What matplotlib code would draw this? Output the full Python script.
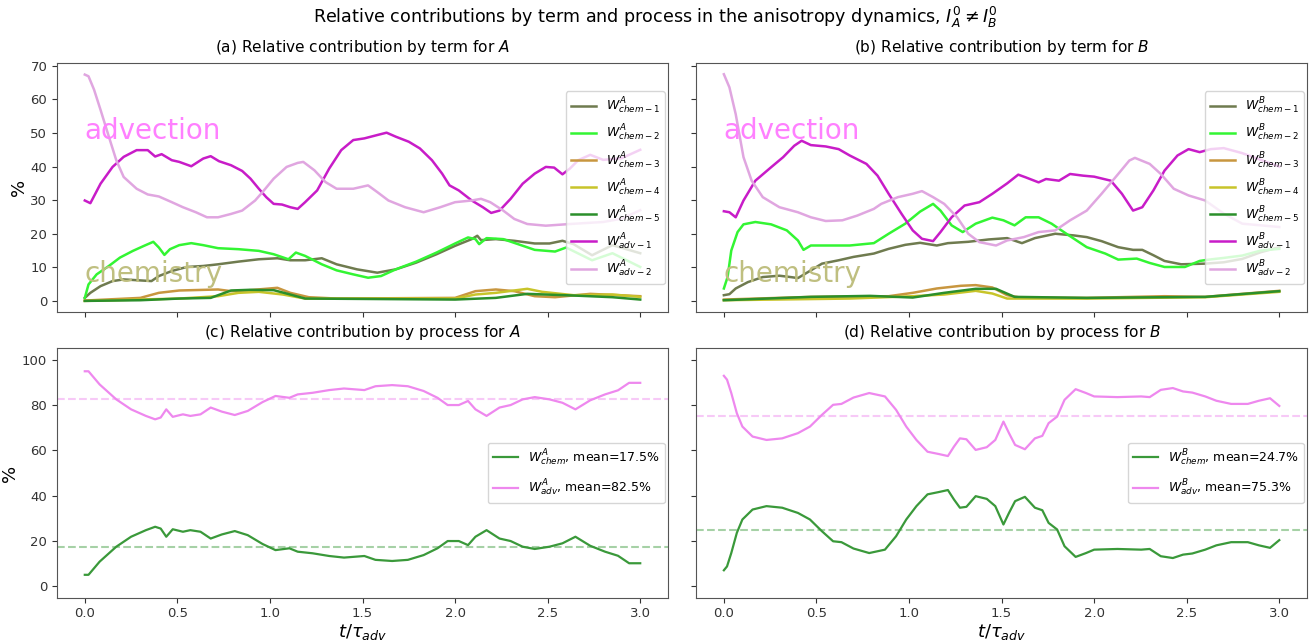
import matplotlib
matplotlib.use("Agg")
import matplotlib.pyplot as plt

# ---- (a) terms for A ----
A_adv1_t = [0, 0.03, 0.085, 0.15, 0.21, 0.28, 0.34, 0.38, 0.415, 0.47, 0.51, 0.575, 0.64, 0.68, 0.725, 0.79,
            0.85, 0.895, 0.94, 0.98, 1.02, 1.065, 1.11, 1.15, 1.19, 1.255, 1.32, 1.385, 1.45, 1.51, 1.58, 1.63,
            1.68, 1.75, 1.81, 1.875, 1.93, 1.97, 2.02, 2.09, 2.15, 2.195, 2.24, 2.30, 2.365, 2.43, 2.49, 2.535,
            2.58, 2.62, 2.665, 2.73, 2.8, 2.9, 3.0]
A_adv1 = [29.9, 29.1, 34.9, 39.9, 42.9, 44.9, 44.9, 43.0, 43.7, 41.9, 41.4, 40.1, 42.4, 43.1, 41.6, 40.4,
          38.7, 36.4, 33.4, 30.9, 28.9, 28.7, 27.9, 27.4, 29.4, 32.9, 39.4, 44.9, 47.9, 48.4, 49.4, 50.1,
          48.9, 47.4, 45.4, 41.9, 37.9, 34.4, 32.9, 29.9, 27.9, 26.2, 26.9, 30.4, 34.9, 37.9, 39.9, 39.7,
          37.7, 39.4, 41.9, 43.5, 42.0, 42.5, 45.0]
A_adv2_t = [0, 0.02, 0.05, 0.085, 0.13, 0.17, 0.21, 0.28, 0.34, 0.40, 0.47, 0.53, 0.60, 0.66, 0.72, 0.79,
            0.85, 0.92, 0.96, 1.02, 1.09, 1.15, 1.18, 1.24, 1.30, 1.36, 1.45, 1.53, 1.58, 1.64, 1.73, 1.83,
            1.92, 2.0, 2.09, 2.14, 2.19, 2.26, 2.32, 2.39, 2.49, 2.62, 2.8, 2.9, 3.0]
A_adv2 = [67.4, 66.9, 62.9, 56.9, 48.9, 41.9, 36.9, 33.4, 31.7, 31.1, 29.4, 27.9, 26.4, 24.9, 24.9, 25.9,
          26.9, 29.9, 32.4, 36.4, 39.9, 41.1, 41.4, 38.9, 35.4, 33.4, 33.4, 34.4, 32.4, 29.9, 27.9, 26.4,
          27.9, 29.4, 29.9, 30.4, 29.4, 26.9, 24.4, 22.9, 22.4, 22.9, 23.5, 24.5, 27.0]
A_chem1_t = [0, 0.03, 0.085, 0.15, 0.21, 0.30, 0.36, 0.40, 0.47, 0.55, 0.64, 0.72, 0.83, 0.94, 1.04, 1.11,
             1.19, 1.28, 1.36, 1.47, 1.58, 1.68, 1.79, 1.90, 2.0, 2.09, 2.12, 2.14, 2.22, 2.32, 2.43, 2.51,
             2.58, 2.64, 2.74, 2.85, 3.0]
A_chem1 = [0.9, 2.4, 4.4, 5.9, 6.4, 6.1, 5.9, 7.4, 8.9, 10.1, 10.4, 10.9, 11.7, 12.4, 12.7, 12.1,
           12.1, 12.7, 10.9, 9.4, 8.4, 9.4, 11.4, 13.9, 16.4, 18.4, 19.4, 18.1, 18.4, 17.9, 17.1, 17.1,
           17.9, 16.9, 13.6, 16.6, 14.2]
A_chem2_t = [0, 0.02, 0.064, 0.13, 0.19, 0.26, 0.32, 0.37, 0.40, 0.43, 0.46, 0.51, 0.575, 0.64, 0.72, 0.83,
             0.94, 1.02, 1.10, 1.14, 1.19, 1.28, 1.36, 1.45, 1.53, 1.60, 1.68, 1.79, 1.90, 2.0, 2.07, 2.11,
             2.13, 2.17, 2.26, 2.34, 2.43, 2.54, 2.60, 2.74, 2.85, 3.0]
A_chem2 = [0.9, 4.9, 7.9, 10.4, 12.9, 14.9, 16.4, 17.6, 15.9, 13.7, 15.4, 16.6, 17.2, 16.6, 15.7, 15.4,
           14.9, 13.9, 12.4, 14.4, 13.4, 10.9, 9.1, 7.9, 6.9, 7.4, 9.4, 11.7, 14.4, 17.1, 18.9, 18.4,
           16.9, 18.7, 18.4, 16.9, 15.2, 14.7, 15.9, 12.1, 14.2, 10.1]
A_chem3_t = [0, 0.30, 0.40, 0.51, 0.72, 0.79, 0.87, 1.04, 1.11, 1.21, 1.36, 2.0, 2.11, 2.22, 2.32, 2.43,
             2.54, 2.73, 3.0]
A_chem3 = [0.1, 0.9, 2.4, 3.1, 3.4, 2.9, 3.1, 3.9, 2.4, 1.1, 0.7, 0.9, 2.9, 3.4, 2.9, 1.4, 1.1, 2.1, 1.4]
A_chem4_t = [0, 0.51, 0.72, 0.83, 0.94, 1.07, 1.19, 2.0, 2.11, 2.22, 2.39, 2.47, 2.64, 2.85, 3.0]
A_chem4 = [0.0, 0.7, 1.4, 2.4, 2.7, 1.9, 0.7, 0.7, 1.9, 2.4, 3.6, 2.7, 1.7, 1.9, 1.2]
A_chem5_t = [0, 0.30, 0.51, 0.68, 0.79, 0.89, 1.02, 1.11, 1.19, 2.0, 2.22, 2.39, 2.64, 2.85, 3.0]
A_chem5 = [0.0, 0.2, 0.7, 0.9, 3.1, 3.3, 3.2, 1.9, 0.7, 0.4, 0.9, 2.1, 1.6, 1.1, 0.4]

# ---- (b) terms for B ----
B_adv1_t = [0, 0.03, 0.064, 0.106, 0.17, 0.255, 0.32, 0.38, 0.42, 0.47, 0.55, 0.62, 0.68, 0.77, 0.83, 0.89,
            0.96, 1.02, 1.07, 1.13, 1.17, 1.23, 1.30, 1.38, 1.45, 1.53, 1.59, 1.63, 1.70, 1.74, 1.81, 1.87,
            1.94, 2.0, 2.09, 2.15, 2.21, 2.26, 2.32, 2.38, 2.45, 2.51, 2.57, 2.63, 2.7, 2.8, 2.9, 3.0]
B_adv1 = [26.7, 26.4, 24.9, 29.9, 35.8, 39.8, 42.8, 46.2, 47.7, 46.4, 46.0, 45.2, 43.3, 40.8, 37.3, 31.9,
          25.9, 21.0, 18.5, 17.8, 20.5, 24.9, 28.4, 29.4, 31.9, 35.0, 37.6, 36.8, 35.3, 36.3, 35.8, 37.8,
          37.3, 37.0, 35.8, 31.9, 26.9, 27.9, 32.9, 38.8, 43.3, 45.2, 44.3, 45.2, 45.5, 44.0, 42.0, 40.0]
B_adv2_t = [0, 0.03, 0.064, 0.106, 0.15, 0.21, 0.30, 0.40, 0.47, 0.55, 0.64, 0.72, 0.81, 0.85, 0.94, 1.02,
            1.07, 1.13, 1.19, 1.26, 1.32, 1.38, 1.47, 1.53, 1.62, 1.70, 1.79, 1.87, 1.96, 2.04, 2.13, 2.19,
            2.22, 2.30, 2.36, 2.43, 2.51, 2.60, 2.7, 2.8, 3.0]
B_adv2 = [67.5, 63.6, 55.6, 42.8, 35.8, 30.9, 27.9, 26.4, 24.9, 23.8, 24.0, 25.4, 27.4, 28.9, 30.9, 31.9,
          32.7, 30.9, 28.9, 24.9, 20.0, 17.5, 16.5, 18.0, 19.0, 20.5, 21.0, 24.0, 26.9, 31.9, 37.8, 41.8,
          42.6, 40.8, 37.8, 33.4, 31.4, 29.9, 26.0, 23.0, 22.0]
B_chem1_t = [0, 0.03, 0.064, 0.13, 0.21, 0.30, 0.36, 0.40, 0.47, 0.53, 0.62, 0.70, 0.81, 0.89, 0.98, 1.06,
             1.15, 1.21, 1.32, 1.43, 1.53, 1.61, 1.68, 1.79, 1.89, 1.96, 2.04, 2.13, 2.21, 2.26, 2.32, 2.38,
             2.47, 2.60, 2.7, 2.8, 2.9, 3.0]
B_chem1 = [1.7, 2.0, 3.7, 5.6, 7.1, 7.5, 7.1, 6.8, 9.1, 11.1, 12.1, 13.1, 14.1, 15.5, 16.7, 17.3,
           16.5, 17.2, 17.6, 18.3, 18.7, 17.2, 18.7, 20.0, 19.5, 19.0, 17.8, 16.0, 15.2, 15.2, 13.6, 11.9,
           10.9, 11.1, 11.5, 12.5, 14.5, 16.0]
B_chem2_t = [0, 0.02, 0.04, 0.074, 0.106, 0.17, 0.255, 0.34, 0.40, 0.43, 0.47, 0.57, 0.68, 0.81, 0.89, 0.98,
             1.06, 1.13, 1.17, 1.23, 1.29, 1.36, 1.45, 1.51, 1.57, 1.63, 1.70, 1.77, 1.85, 1.96, 2.06, 2.13,
             2.23, 2.30, 2.38, 2.49, 2.57, 2.62, 2.7, 2.8, 2.9, 3.0]
B_chem2 = [3.7, 7.1, 15.0, 20.5, 22.8, 23.5, 22.8, 21.0, 18.0, 15.2, 16.5, 16.5, 16.5, 17.2, 20.0, 23.0,
           26.6, 28.9, 26.9, 22.5, 20.5, 23.0, 24.8, 24.0, 22.5, 24.9, 24.9, 23.0, 20.0, 16.0, 14.1, 12.3,
           12.6, 11.3, 10.1, 10.1, 11.9, 12.3, 12.8, 13.5, 15.0, 15.5]
B_chem3_t = [0, 0.47, 0.89, 1.02, 1.15, 1.28, 1.36, 1.45, 1.53, 1.60, 1.96, 2.38, 2.60, 3.0]
B_chem3 = [0.4, 1.2, 1.4, 2.4, 3.7, 4.5, 4.7, 4.0, 1.7, 1.0, 0.9, 1.4, 1.2, 3.0]
B_chem4_t = [0, 0.68, 1.02, 1.19, 1.36, 1.45, 1.53, 1.96, 2.6, 3.0]
B_chem4 = [0.2, 0.7, 1.4, 1.9, 3.0, 2.2, 0.7, 0.7, 1.1, 2.7]
B_chem5_t = [0, 0.47, 0.79, 1.02, 1.19, 1.36, 1.47, 1.57, 1.96, 2.60, 3.0]
B_chem5 = [0.2, 1.2, 1.5, 1.0, 2.4, 3.6, 3.6, 1.2, 0.9, 1.2, 2.9]

# ---- (c) processes for A ----
C_t = [0, 0.02, 0.08, 0.17, 0.25, 0.33, 0.38, 0.41, 0.44, 0.475, 0.53, 0.57, 0.625, 0.68, 0.74, 0.81,
       0.88, 0.96, 1.03, 1.105, 1.15, 1.23, 1.32, 1.40, 1.51, 1.57, 1.66, 1.745, 1.83, 1.905, 1.96, 2.02,
       2.07, 2.11, 2.17, 2.24, 2.30, 2.365, 2.43, 2.51, 2.58, 2.65, 2.73, 2.81, 2.88, 2.94, 3.0]
C_adv = [94.9, 94.9, 89.1, 82.5, 78.1, 75.2, 73.7, 74.5, 78.1, 74.8, 75.9, 75.2, 75.9, 78.9, 77.1, 75.6,
         77.4, 81.3, 84.0, 83.2, 84.7, 85.4, 86.6, 87.3, 86.6, 88.3, 88.8, 88.3, 86.2, 83.2, 80.0, 80.0,
         81.8, 78.1, 75.2, 78.9, 80.0, 82.5, 83.5, 82.5, 81.0, 78.1, 82.1, 84.7, 86.5, 89.8, 89.8]
C_chem = [5.1, 5.1, 10.9, 17.5, 21.9, 24.8, 26.3, 25.5, 21.9, 25.2, 24.1, 24.8, 24.1, 21.1, 22.9, 24.4,
          22.6, 18.7, 16.0, 16.8, 15.3, 14.6, 13.4, 12.7, 13.4, 11.7, 11.2, 11.7, 13.8, 16.8, 20.0, 20.0,
          18.2, 21.9, 24.8, 21.1, 20.0, 17.5, 16.5, 17.5, 19.0, 21.9, 17.9, 15.3, 13.5, 10.2, 10.2]
C_means = [17.5, 82.5]

# ---- (d) processes for B ----
D_t = [0, 0.017, 0.04, 0.07, 0.10, 0.155, 0.23, 0.315, 0.40, 0.465, 0.53, 0.59, 0.635, 0.70, 0.785, 0.87,
       0.93, 0.985, 1.04, 1.10, 1.16, 1.21, 1.243, 1.275, 1.31, 1.36, 1.42, 1.466, 1.51, 1.54, 1.573, 1.626,
       1.68, 1.72, 1.754, 1.80, 1.84, 1.90, 1.956, 2.0, 2.126, 2.254, 2.30, 2.36, 2.425, 2.48, 2.53, 2.60,
       2.66, 2.74, 2.83, 2.89, 2.95, 3.0]
D_adv = [92.9, 91.2, 85.3, 76.4, 70.5, 66.1, 64.6, 65.3, 67.6, 70.5, 75.7, 80.1, 80.5, 83.3, 85.3, 83.8,
         77.9, 70.5, 64.6, 59.4, 58.4, 57.5, 61.7, 65.3, 64.9, 60.2, 61.4, 64.6, 72.7, 67.6, 62.4, 60.5,
         65.3, 66.4, 72.0, 74.9, 82.3, 87.0, 85.3, 83.8, 83.5, 83.8, 83.5, 86.7, 87.5, 86.0, 85.5, 83.8,
         81.9, 80.5, 80.5, 81.9, 83.0, 79.6]
D_chem = [7.1, 8.8, 14.7, 23.6, 29.5, 33.9, 35.4, 34.7, 32.4, 29.5, 24.3, 19.9, 19.5, 16.7, 14.7, 16.2,
          22.1, 29.5, 35.4, 40.6, 41.6, 42.5, 38.3, 34.7, 35.1, 39.8, 38.6, 35.4, 27.3, 32.4, 37.6, 39.5,
          34.7, 33.6, 28.0, 25.1, 17.7, 13.0, 14.7, 16.2, 16.5, 16.2, 16.5, 13.3, 12.5, 14.0, 14.5, 16.2,
          18.1, 19.5, 19.5, 18.1, 17.0, 20.4]
D_means = [24.7, 75.3]

TERM_COLORS = ["#6f7b4f", "#33f533", "#c8963f", "#c8c42a", "#2b8f2b", "#c81cc8", "#e0a6e0"]
TERM_NAMES = ["chem-1", "chem-2", "chem-3", "chem-4", "chem-5", "adv-1", "adv-2"]
CHEM_C = "#3a993a"
ADV_C = "#ee88ee"

fig, axes = plt.subplots(2, 2, figsize=(13.11, 6.42), dpi=100, sharex=True, sharey="row")
fig.subplots_adjust(left=0.0435, right=0.997, top=0.902, bottom=0.069, wspace=0.046, hspace=0.145)

def term_panel(ax, sp, series, title):
    for (t, v), c, n in zip(series, TERM_COLORS, TERM_NAMES):
        ax.plot(t, v, color=c, lw=1.8, label=r"$W^{%s}_{%s}$" % (sp, n.replace("-", " - ")))
    ax.set_title(title, fontsize=11.1, pad=8)
    ax.text(0, 50.5, "advection", color="#ff80ff", fontsize=20, va="center", ha="left")
    ax.text(0, 8, "chemistry", color="#bfbf80", fontsize=20, va="center", ha="left")
    ax.legend(loc="center right", fontsize=9, borderaxespad=0.25, labelspacing=0.55)

def process_panel(ax, sp, t, chem, adv, means, title):
    ax.plot(t, chem, color=CHEM_C, lw=1.6, label=r"$W^{%s}_{chem}$, mean=%.1f%%" % (sp, means[0]))
    ax.plot(t, adv, color=ADV_C, lw=1.6, label=r"$W^{%s}_{adv}$, mean=%.1f%%" % (sp, means[1]))
    ax.axhline(means[0], color=CHEM_C, alpha=0.45, ls="--", lw=1.5)
    ax.axhline(means[1], color=ADV_C, alpha=0.45, ls="--", lw=1.5)
    ax.set_title(title, fontsize=11.1, pad=8)
    ax.legend(loc="center right", fontsize=9, borderaxespad=0.25, labelspacing=0.8)

term_panel(axes[0, 0], "A", [(A_chem1_t, A_chem1), (A_chem2_t, A_chem2), (A_chem3_t, A_chem3),
                             (A_chem4_t, A_chem4), (A_chem5_t, A_chem5), (A_adv1_t, A_adv1),
                             (A_adv2_t, A_adv2)], r"(a) Relative contribution by term for $A$")
term_panel(axes[0, 1], "B", [(B_chem1_t, B_chem1), (B_chem2_t, B_chem2), (B_chem3_t, B_chem3),
                             (B_chem4_t, B_chem4), (B_chem5_t, B_chem5), (B_adv1_t, B_adv1),
                             (B_adv2_t, B_adv2)], r"(b) Relative contribution by term for $B$")
process_panel(axes[1, 0], "A", C_t, C_chem, C_adv, C_means, r"(c) Relative contribution by process for $A$")
process_panel(axes[1, 1], "B", D_t, D_chem, D_adv, D_means, r"(d) Relative contribution by process for $B$")

axes[1, 0].set_ylim(-5, 105)
for ax in axes[:, 0]:
    ax.set_ylabel("%", fontsize=13, labelpad=2)
for ax in axes[1]:
    ax.set_xlabel(r"$t/\tau_{adv}$", fontsize=13, labelpad=1)
for ax in axes.flat:
    ax.tick_params(labelsize=9.5, colors="#333333")
    for s in ax.spines.values():
        s.set_color("#555555")

fig.suptitle(r"Relative contributions by term and process in the anisotropy dynamics, $I_A^0 \neq I_B^0$",
             fontsize=12.6, y=0.993)

fig.savefig("out.png", dpi=100)
